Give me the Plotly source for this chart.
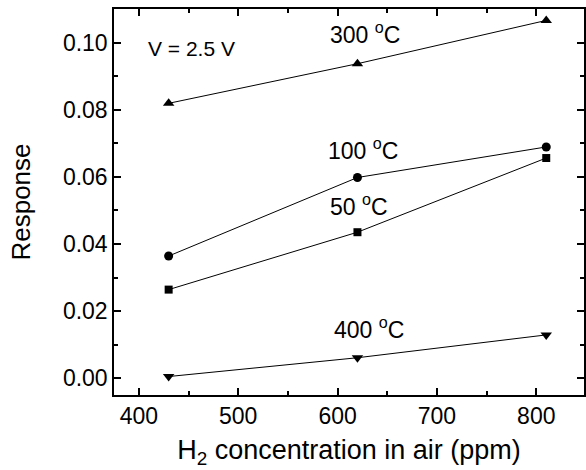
import plotly.graph_objects as go

conc = [430, 620, 810]
resp_300 = [0.0819, 0.0937, 0.1066]
resp_100 = [0.0364, 0.0598, 0.0689]
resp_50 = [0.0264, 0.0435, 0.0656]
resp_400 = [0.0005, 0.0061, 0.0129]

series = [
    ("300 oC", resp_300, "triangle-up", 10),
    ("100 oC", resp_100, "circle", 9),
    ("50 oC", resp_50, "square", 8),
    ("400 oC", resp_400, "triangle-down", 10),
]

FONT = "Liberation Sans, Arial, Helvetica, sans-serif"

fig = go.Figure()
for name, vals, sym, sz in series:
    fig.add_trace(go.Scatter(
        x=conc, y=vals, mode="lines+markers", name=name,
        line=dict(color="black", width=1),
        marker=dict(symbol=sym, size=sz, color="black"),
        showlegend=False,
    ))

labels = [
    ("300 <sup>o</sup>C", 628, 0.1030),
    ("100 <sup>o</sup>C", 626, 0.0682),
    ("50 <sup>o</sup>C", 622, 0.0515),
    ("400 <sup>o</sup>C", 632, 0.0151),
]
for txt, x, y in labels:
    fig.add_annotation(x=x, y=y, xref="x", yref="y", text=txt, showarrow=False,
                       font=dict(size=23, color="black", family=FONT))
fig.add_annotation(x=453, y=0.0981, xref="x", yref="y", text="V = 2.5 V", showarrow=False,
                   font=dict(size=21, color="black", family=FONT))

axis_common = dict(
    showline=True, linecolor="black", linewidth=1.5, mirror="ticks",
    ticks="inside", ticklen=7, tickwidth=1.5, tickcolor="black",
    showgrid=False, zeroline=False,
    tickfont=dict(size=23, color="black", family=FONT),
)

fig.update_xaxes(
    range=[375, 848], tickvals=[400, 500, 600, 700, 800],
    minor=dict(ticks="inside", ticklen=4, tickwidth=1.5, tickcolor="black", dtick=50, tick0=0),
    title=dict(text="H<sub>2</sub> concentration in air (ppm)", font=dict(size=27, color="black", family=FONT), standoff=12),
    **axis_common,
)
fig.update_yaxes(
    range=[-0.005, 0.110], tickvals=[0.00, 0.02, 0.04, 0.06, 0.08, 0.10], tickformat=".2f",
    minor=dict(ticks="inside", ticklen=4, tickwidth=1.5, tickcolor="black", dtick=0.01, tick0=0),
    title=dict(text="Response", font=dict(size=26, color="black", family=FONT), standoff=25),
    **axis_common,
)

fig.update_layout(
    width=586, height=470,
    margin=dict(l=114, r=0, t=9, b=75),
    plot_bgcolor="white", paper_bgcolor="white",
    font=dict(family=FONT, color="black"),
)

fig.write_html("out.html")
